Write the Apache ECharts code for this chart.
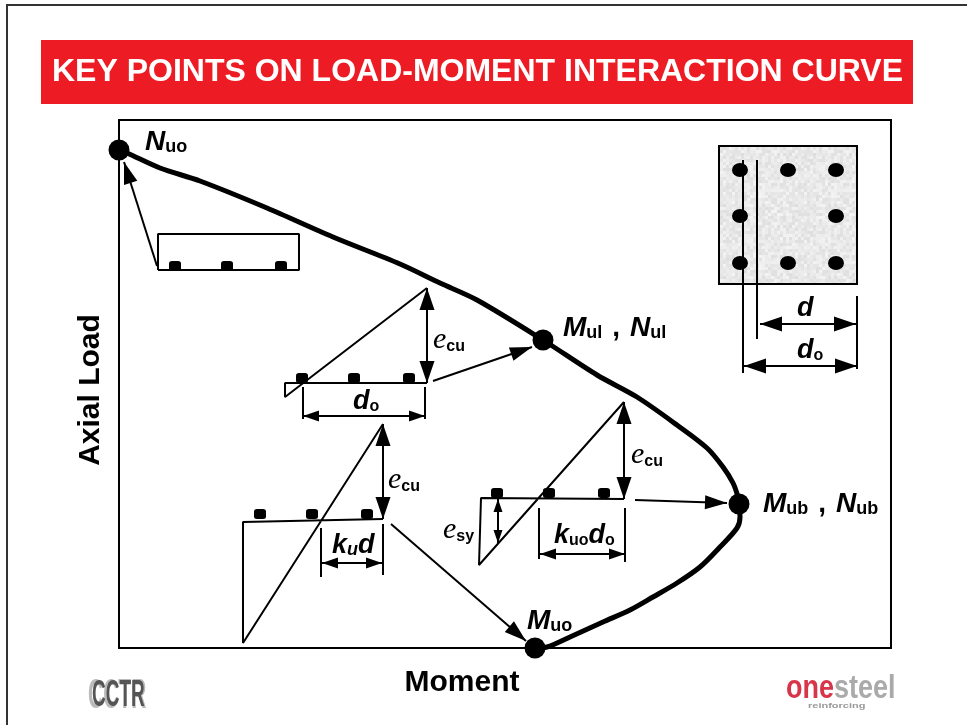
<!DOCTYPE html>
<html>
<head>
<meta charset="utf-8">
<title>Load-moment interaction curve</title>
<script src="https://cdn.jsdelivr.net/npm/echarts@6/dist/echarts.min.js"></script>
<style>
    html, body { margin: 0; padding: 0; background: #fff; }
    #chart { width: 967px; height: 725px; }
</style>
</head>
<body>
<div id="chart"></div>
<script>
// values are in diagram units, the plot has no real scale: x 0-772, y 0-528
const titleText = 'KEY POINTS ON LOAD-MOMENT INTERACTION CURVE';
const xName = 'Moment';
const yName = 'Axial Load';

const curve = [
    [0, 498], [8, 495], [41, 480], [81, 467], [148, 440], [214, 411], [281, 384], [321, 365],
    [358, 348], [424, 308], [478, 273], [518, 251], [558, 223], [588, 200], [604, 181],
    [614, 165], [619, 151], [620, 144], [621, 131], [618, 120], [601, 101], [581, 81],
    [558, 65], [534, 51], [511, 38], [484, 26], [451, 11], [428, 1], [416, 0]
];
const keyPoints = [[0, 498], [424, 308], [620, 144], [416, 0]];

// outlines of the section block and the three strain diagrams
const outlines = [
    [[39, 378], [39, 414], [180, 414], [180, 378], [39, 378]],
    [[308, 265], [166, 265], [166, 251], [308, 360]],
    [[264, 129], [124, 126], [124, 5], [264, 224]],
    [[505, 149], [362, 150], [360, 83], [505, 246]]
];
const dimTicks = [
    [[184, 261], [184, 229]],
    [[306, 261], [306, 229]],
    [[202, 120], [202, 71]],
    [[264, 124], [264, 73]],
    [[420, 140], [420, 89]],
    [[506, 140], [506, 86]],
    [[624, 488], [624, 275]],
    [[638, 488], [638, 309]],
    [[738, 352], [738, 279]]
];
const pointerArrows = [
    [38, 382, 5, 486],
    [314, 267, 413, 301],
    [272, 124, 407, 7],
    [516, 148, 608, 145]
];
const strainArrows = [
    [308, 360, 308, 265],
    [264, 224, 264, 129],
    [505, 246, 505, 149],
    [641, 324, 737, 324],
    [625, 282, 738, 282]
];
const dimArrows = [
    [184, 232, 306, 232],
    [203, 85, 263, 85],
    [421, 94, 506, 94]
];
const yieldArrows = [[379, 149, 379, 105]];

const rebars = [
    [56, 382], [108, 382], [162, 382],
    [183, 270], [235, 270], [290, 270],
    [141, 134], [193, 134], [248, 134],
    [378, 155], [430, 155], [485, 155]
];
const sectionBox = [[600, 502, 738, 364]];
const sectionBars = [
    [621, 478], [669, 478], [717, 478],
    [621, 432], [717, 432],
    [621, 385], [669, 385], [717, 385]
];

const labels = [
    [26, 492, '{b|N}{s|uo}'],
    [444, 306, '{b|M}{s|ul}{c|,}{b|N}{s|ul}'],
    [644, 130, '{b|M}{s|ub}{c|,}{b|N}{s|ub}'],
    [408, 13, '{b|M}{s|uo}'],
    [314, 293, '{e|e}{t|cu}'],
    [269, 153, '{e|e}{t|cu}'],
    [512, 178, '{e|e}{t|cu}'],
    [324, 103, '{e|e}{t|sy}'],
    [234, 233, '{d|d}{p|o}'],
    [213, 89, '{d|k}{i|u}{d|d}'],
    [435, 99, '{d|k}{p|uo}{d|d}{p|o}'],
    [678, 326, '{d|d}'],
    [678, 284, '{d|d}{p|o}']
];

const SANS = '"Liberation Sans", Arial, sans-serif';
const SERIF = '"Liberation Serif", "Times New Roman", serif';

// mottled concrete fill for the column section
function concreteTexture() {
    const canvas = document.createElement('canvas');
    canvas.width = canvas.height = 72;
    const ctx = canvas.getContext('2d');
    for (let y = 0; y < 72; y += 3) {
        for (let x = 0; x < 72; x += 3) {
            const h = Math.abs(Math.sin(x * 12.9898 + y * 78.233) * 43758.5453) % 1;
            const g = Math.round(222 + h * 22);
            ctx.fillStyle = `rgb(${g},${g},${g})`;
            ctx.fillRect(x, y, 3, 3);
        }
    }
    return canvas;
}

function lineSeries(points, width) {
    return {
        type: 'line',
        data: points,
        showSymbol: false,
        clip: false,
        silent: true,
        z: 3,
        lineStyle: { color: '#000', width: width }
    };
}

function head(tip, tail, len, wid) {
    const dx = tip[0] - tail[0];
    const dy = tip[1] - tail[1];
    const d = Math.sqrt(dx * dx + dy * dy) || 1;
    const ux = dx / d;
    const uy = dy / d;
    const bx = tip[0] - ux * len;
    const by = tip[1] - uy * len;
    return {
        type: 'polygon',
        shape: { points: [tip, [bx - uy * wid / 2, by + ux * wid / 2], [bx + uy * wid / 2, by - ux * wid / 2]] },
        style: { fill: '#000' }
    };
}

function arrowSeries(segs, len, wid, lineWidth, both) {
    return {
        type: 'custom',
        coordinateSystem: 'cartesian2d',
        data: segs,
        clip: false,
        silent: true,
        z: 4,
        encode: { x: [0, 2], y: [1, 3] },
        renderItem: function (params, api) {
            const a = api.coord([api.value(0), api.value(1)]);
            const b = api.coord([api.value(2), api.value(3)]);
            const children = [
                {
                    type: 'line',
                    shape: { x1: a[0], y1: a[1], x2: b[0], y2: b[1] },
                    style: { stroke: '#000', lineWidth: lineWidth }
                },
                head(b, a, len, wid)
            ];
            if (both) children.push(head(a, b, len, wid));
            return { type: 'group', children: children };
        }
    };
}

const myChart = echarts.init(document.getElementById('chart'), null, { renderer: 'canvas' });

const texture = concreteTexture();

const option = {
    animation: false,
    backgroundColor: '#fff',
    title: {
        text: titleText,
        left: 47,
        top: 51,
        textStyle: { color: '#fff', fontFamily: SANS, fontWeight: 'bold', fontSize: 32 }
    },
    graphic: [
        { type: 'rect', z: -10, shape: { x: 7, y: 5, width: 1000, height: 800 }, style: { fill: '#fff', stroke: '#333', lineWidth: 2 } },
        { type: 'rect', z: -5, shape: { x: 41, y: 40, width: 872, height: 64 }, style: { fill: '#ed1c24' } },
        { type: 'text', x: 88, y: 675, scaleY: 2, style: { text: 'CCTR', fill: '#bbb', font: 'bold 21px ' + SANS } },
        { type: 'text', x: 92, y: 677, scaleY: 1.95, style: { text: 'CCTR', fill: '#555', font: 'bold 19px ' + SANS } },
        { type: 'text', x: 786, y: 672, scaleY: 1.25, style: { text: 'one', fill: '#d8344a', font: 'bold 27px ' + SANS, shadowBlur: 2, shadowColor: '#d8344a' } },
        { type: 'text', x: 834, y: 672, scaleY: 1.25, style: { text: 'steel', fill: '#aaa', font: 'bold 27px ' + SANS, shadowBlur: 2, shadowColor: '#aaa' } },
        { type: 'text', x: 808, y: 703, scaleY: 0.6, style: { text: 'reinforcing', fill: '#999', font: 'bold 11px ' + SANS } }
    ],
    grid: { left: 119, top: 120, width: 772, height: 528, show: true, borderColor: '#000', borderWidth: 2, backgroundColor: '#fff' },
    xAxis: {
        type: 'value',
        min: 0,
        max: 772,
        name: xName,
        nameLocation: 'middle',
        nameGap: 20,
        nameTextStyle: { color: '#000', fontFamily: SANS, fontWeight: 'bold', fontSize: 30, padding: [0, 86, 0, 0] },
        axisLine: { show: false },
        axisTick: { show: false },
        axisLabel: { show: false },
        splitLine: { show: false }
    },
    yAxis: {
        type: 'value',
        min: 0,
        max: 528,
        name: yName,
        nameLocation: 'middle',
        nameGap: 13,
        nameTextStyle: { color: '#000', fontFamily: SANS, fontWeight: 'bold', fontSize: 30, padding: [0, 12, 0, 0] },
        axisLine: { show: false },
        axisTick: { show: false },
        axisLabel: { show: false },
        splitLine: { show: false }
    },
    series: [
        {
            // column cross-section
            type: 'custom',
            coordinateSystem: 'cartesian2d',
            data: sectionBox,
            silent: true,
            z: 1,
            encode: { x: [0, 2], y: [1, 3] },
            renderItem: function (params, api) {
                const a = api.coord([api.value(0), api.value(1)]);
                const b = api.coord([api.value(2), api.value(3)]);
                return {
                    type: 'rect',
                    shape: { x: a[0], y: a[1], width: b[0] - a[0], height: b[1] - a[1] },
                    style: { fill: { image: texture, repeat: 'repeat' }, stroke: '#000', lineWidth: 2 }
                };
            }
        },
        {
            type: 'line',
            data: curve,
            smooth: 0.3,
            showSymbol: false,
            clip: false,
            silent: true,
            z: 5,
            lineStyle: { color: '#000', width: 5 }
        },
        ...outlines.map(p => lineSeries(p, 2)),
        ...dimTicks.map(p => lineSeries(p, 2)),
        arrowSeries(pointerArrows, 22, 14, 2, false),
        arrowSeries(strainArrows, 22, 15, 2, true),
        arrowSeries(dimArrows, 16, 11, 2, true),
        arrowSeries(yieldArrows, 13, 9, 2, true),
        {
            type: 'scatter',
            data: rebars,
            symbol: 'roundRect',
            symbolSize: [12, 10],
            clip: false,
            silent: true,
            z: 4,
            itemStyle: { color: '#000', opacity: 1 }
        },
        {
            type: 'scatter',
            data: sectionBars,
            symbol: 'circle',
            symbolSize: [16, 14],
            silent: true,
            z: 2,
            itemStyle: { color: '#000', opacity: 1 }
        },
        {
            type: 'scatter',
            data: keyPoints,
            symbol: 'circle',
            symbolSize: 21,
            clip: false,
            silent: true,
            z: 6,
            itemStyle: { color: '#000', opacity: 1 }
        },
        {
            // text annotations
            type: 'scatter',
            data: labels.map(l => ({ value: [l[0], l[1]], text: l[2] })),
            symbolSize: 0,
            clip: false,
            silent: true,
            z: 7,
            itemStyle: { opacity: 1 },
            label: {
                show: true,
                position: [0, 0],
                align: 'left',
                verticalAlign: 'bottom',
                formatter: function (p) { return p.data.text; },
                rich: {
                    b: { fontFamily: SANS, fontWeight: 'bold', fontStyle: 'italic', fontSize: 28, lineHeight: 28, color: '#000', verticalAlign: 'bottom' },
                    s: { fontFamily: SANS, fontWeight: 'bold', fontSize: 18, lineHeight: 18, color: '#000', verticalAlign: 'bottom' },
                    c: { fontFamily: SANS, fontWeight: 'bold', fontSize: 28, lineHeight: 28, color: '#000', verticalAlign: 'bottom', padding: [0, 10, 0, 10] },
                    e: { fontFamily: SERIF, fontStyle: 'italic', fontSize: 30, lineHeight: 30, color: '#000', verticalAlign: 'bottom' },
                    t: { fontFamily: SANS, fontWeight: 'bold', fontSize: 16, lineHeight: 16, color: '#000', verticalAlign: 'bottom' },
                    d: { fontFamily: SANS, fontWeight: 'bold', fontStyle: 'italic', fontSize: 27, lineHeight: 27, color: '#000', verticalAlign: 'bottom' },
                    p: { fontFamily: SANS, fontWeight: 'bold', fontSize: 16, lineHeight: 16, color: '#000', verticalAlign: 'bottom' },
                    i: { fontFamily: SANS, fontWeight: 'bold', fontStyle: 'italic', fontSize: 18, lineHeight: 18, color: '#000', verticalAlign: 'bottom' }
                }
            }
        }
    ]
};

myChart.setOption(option);
</script>
</body>
</html>
